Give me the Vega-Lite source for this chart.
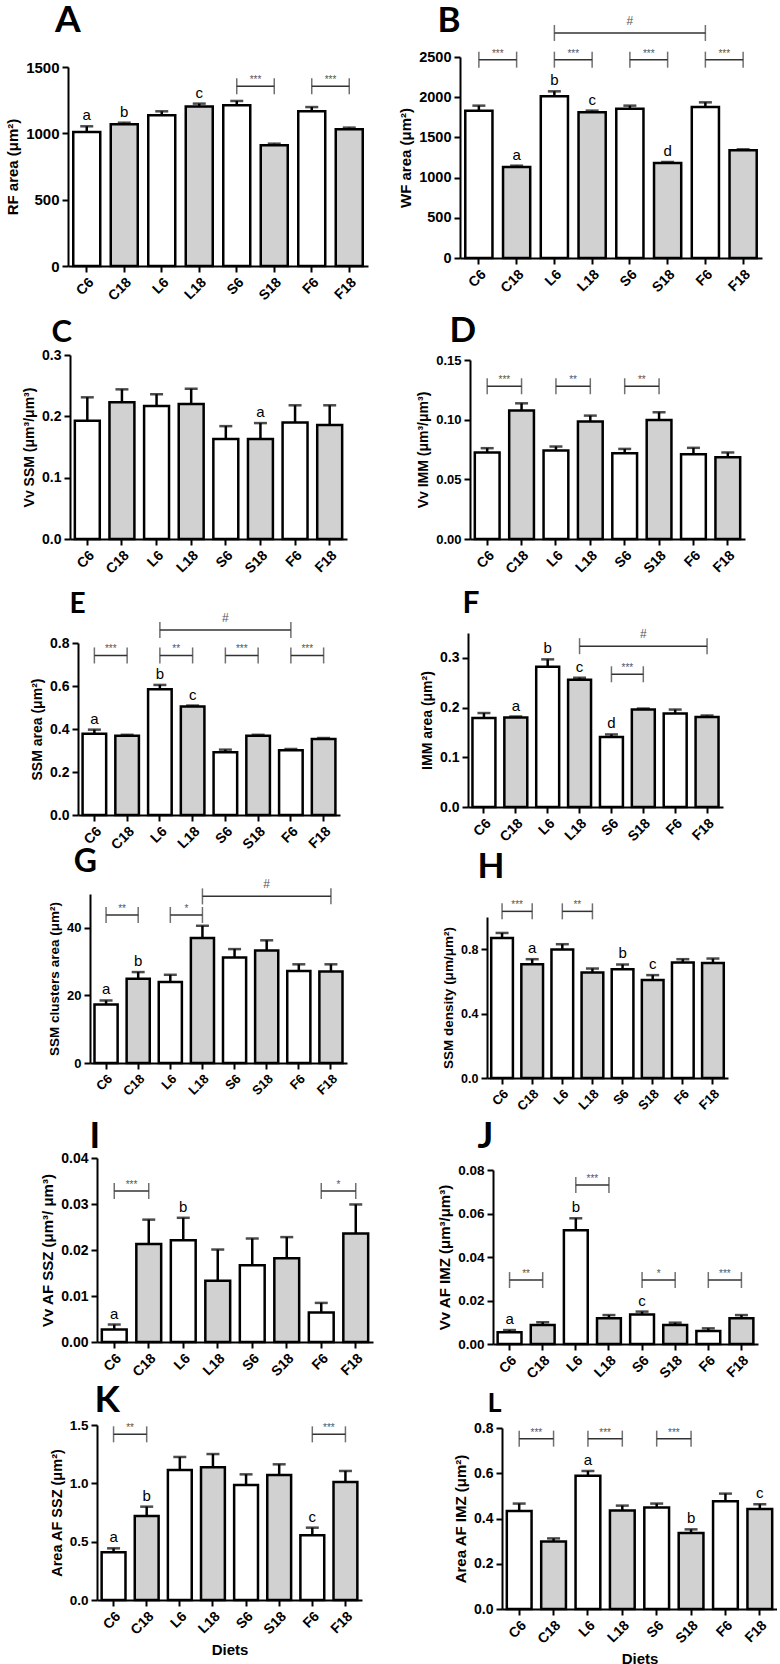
{
"$schema":"https://vega.github.io/schema/vega-lite/v6.json",
"padding":0,
"background":"white",
"datasets":{
"bars":[
{"p":"A","diet":"C6","wk":"6","mean":1010,"upper":1053,"letter":"a"},
{"p":"A","diet":"C18","wk":"18","mean":1068,"upper":1080,"letter":"b"},
{"p":"A","diet":"L6","wk":"6","mean":1136,"upper":1166},
{"p":"A","diet":"L18","wk":"18","mean":1203,"upper":1224,"letter":"c"},
{"p":"A","diet":"S6","wk":"6","mean":1211,"upper":1244},
{"p":"A","diet":"S18","wk":"18","mean":910,"upper":922},
{"p":"A","diet":"F6","wk":"6","mean":1166,"upper":1198},
{"p":"A","diet":"F18","wk":"18","mean":1030,"upper":1043},
{"p":"B","diet":"C6","wk":"6","mean":1833,"upper":1895},
{"p":"B","diet":"C18","wk":"18","mean":1132,"upper":1148,"letter":"a"},
{"p":"B","diet":"L6","wk":"6","mean":2011,"upper":2073,"letter":"b"},
{"p":"B","diet":"L18","wk":"18","mean":1812,"upper":1833,"letter":"c"},
{"p":"B","diet":"S6","wk":"6","mean":1857,"upper":1895},
{"p":"B","diet":"S18","wk":"18","mean":1182,"upper":1194,"letter":"d"},
{"p":"B","diet":"F6","wk":"6","mean":1878,"upper":1936},
{"p":"B","diet":"F18","wk":"18","mean":1339,"upper":1352},
{"p":"C","diet":"C6","wk":"6","mean":0.193,"upper":0.231},
{"p":"C","diet":"C18","wk":"18","mean":0.223,"upper":0.244},
{"p":"C","diet":"L6","wk":"6","mean":0.217,"upper":0.236},
{"p":"C","diet":"L18","wk":"18","mean":0.220,"upper":0.245},
{"p":"C","diet":"S6","wk":"6","mean":0.163,"upper":0.184},
{"p":"C","diet":"S18","wk":"18","mean":0.163,"upper":0.189,"letter":"a"},
{"p":"C","diet":"F6","wk":"6","mean":0.190,"upper":0.218},
{"p":"C","diet":"F18","wk":"18","mean":0.186,"upper":0.218},
{"p":"D","diet":"C6","wk":"6","mean":0.0725,"upper":0.0761},
{"p":"D","diet":"C18","wk":"18","mean":0.1076,"upper":0.1137},
{"p":"D","diet":"L6","wk":"6","mean":0.0742,"upper":0.0775},
{"p":"D","diet":"L18","wk":"18","mean":0.0984,"upper":0.1034},
{"p":"D","diet":"S6","wk":"6","mean":0.0719,"upper":0.0755},
{"p":"D","diet":"S18","wk":"18","mean":0.0998,"upper":0.1062},
{"p":"D","diet":"F6","wk":"6","mean":0.0711,"upper":0.0764},
{"p":"D","diet":"F18","wk":"18","mean":0.0686,"upper":0.0725},
{"p":"E","diet":"C6","wk":"6","mean":0.378,"upper":0.397,"letter":"a"},
{"p":"E","diet":"C18","wk":"18","mean":0.369,"upper":0.373},
{"p":"E","diet":"L6","wk":"6","mean":0.585,"upper":0.605,"letter":"b"},
{"p":"E","diet":"L18","wk":"18","mean":0.505,"upper":0.509,"letter":"c"},
{"p":"E","diet":"S6","wk":"6","mean":0.292,"upper":0.304},
{"p":"E","diet":"S18","wk":"18","mean":0.369,"upper":0.373},
{"p":"E","diet":"F6","wk":"6","mean":0.301,"upper":0.307},
{"p":"E","diet":"F18","wk":"18","mean":0.353,"upper":0.358},
{"p":"F","diet":"C6","wk":"6","mean":0.179,"upper":0.189},
{"p":"F","diet":"C18","wk":"18","mean":0.180,"upper":0.182,"letter":"a"},
{"p":"F","diet":"L6","wk":"6","mean":0.282,"upper":0.297,"letter":"b"},
{"p":"F","diet":"L18","wk":"18","mean":0.256,"upper":0.260,"letter":"c"},
{"p":"F","diet":"S6","wk":"6","mean":0.141,"upper":0.146,"letter":"d"},
{"p":"F","diet":"S18","wk":"18","mean":0.196,"upper":0.198},
{"p":"F","diet":"F6","wk":"6","mean":0.188,"upper":0.196},
{"p":"F","diet":"F18","wk":"18","mean":0.181,"upper":0.184},
{"p":"G","diet":"C6","wk":"6","mean":17.3,"upper":18.5,"letter":"a"},
{"p":"G","diet":"C18","wk":"18","mean":24.9,"upper":26.9,"letter":"b"},
{"p":"G","diet":"L6","wk":"6","mean":24.0,"upper":26.1},
{"p":"G","diet":"L18","wk":"18","mean":37.0,"upper":40.6},
{"p":"G","diet":"S6","wk":"6","mean":31.2,"upper":33.7},
{"p":"G","diet":"S18","wk":"18","mean":33.3,"upper":36.3},
{"p":"G","diet":"F6","wk":"6","mean":27.2,"upper":29.2},
{"p":"G","diet":"F18","wk":"18","mean":27.1,"upper":29.2},
{"p":"H","diet":"C6","wk":"6","mean":0.870,"upper":0.901},
{"p":"H","diet":"C18","wk":"18","mean":0.707,"upper":0.738,"letter":"a"},
{"p":"H","diet":"L6","wk":"6","mean":0.798,"upper":0.831},
{"p":"H","diet":"L18","wk":"18","mean":0.656,"upper":0.680},
{"p":"H","diet":"S6","wk":"6","mean":0.676,"upper":0.705,"letter":"b"},
{"p":"H","diet":"S18","wk":"18","mean":0.608,"upper":0.639,"letter":"c"},
{"p":"H","diet":"F6","wk":"6","mean":0.718,"upper":0.738},
{"p":"H","diet":"F18","wk":"18","mean":0.715,"upper":0.742},
{"p":"I","diet":"C6","wk":"6","mean":0.0027,"upper":0.0038,"letter":"a"},
{"p":"I","diet":"C18","wk":"18","mean":0.0213,"upper":0.0266},
{"p":"I","diet":"L6","wk":"6","mean":0.0221,"upper":0.0270,"letter":"b"},
{"p":"I","diet":"L18","wk":"18","mean":0.0133,"upper":0.0201},
{"p":"I","diet":"S6","wk":"6","mean":0.0167,"upper":0.0225},
{"p":"I","diet":"S18","wk":"18","mean":0.0182,"upper":0.0228},
{"p":"I","diet":"F6","wk":"6","mean":0.0064,"upper":0.0085},
{"p":"I","diet":"F18","wk":"18","mean":0.0236,"upper":0.0299},
{"p":"J","diet":"C6","wk":"6","mean":0.0054,"upper":0.0064,"letter":"a"},
{"p":"J","diet":"C18","wk":"18","mean":0.0087,"upper":0.0100},
{"p":"J","diet":"L6","wk":"6","mean":0.0523,"upper":0.0578,"letter":"b"},
{"p":"J","diet":"L18","wk":"18","mean":0.0118,"upper":0.0133},
{"p":"J","diet":"S6","wk":"6","mean":0.0136,"upper":0.0149,"letter":"c"},
{"p":"J","diet":"S18","wk":"18","mean":0.0087,"upper":0.0098},
{"p":"J","diet":"F6","wk":"6","mean":0.0060,"upper":0.0072},
{"p":"J","diet":"F18","wk":"18","mean":0.0118,"upper":0.0133},
{"p":"K","diet":"C6","wk":"6","mean":0.409,"upper":0.443,"letter":"a"},
{"p":"K","diet":"C18","wk":"18","mean":0.720,"upper":0.800,"letter":"b"},
{"p":"K","diet":"L6","wk":"6","mean":1.114,"upper":1.226},
{"p":"K","diet":"L18","wk":"18","mean":1.137,"upper":1.251},
{"p":"K","diet":"S6","wk":"6","mean":0.986,"upper":1.077},
{"p":"K","diet":"S18","wk":"18","mean":1.071,"upper":1.163},
{"p":"K","diet":"F6","wk":"6","mean":0.554,"upper":0.620,"letter":"c"},
{"p":"K","diet":"F18","wk":"18","mean":1.011,"upper":1.106},
{"p":"L","diet":"C6","wk":"6","mean":0.433,"upper":0.466},
{"p":"L","diet":"C18","wk":"18","mean":0.298,"upper":0.312},
{"p":"L","diet":"L6","wk":"6","mean":0.589,"upper":0.610,"letter":"a"},
{"p":"L","diet":"L18","wk":"18","mean":0.435,"upper":0.457},
{"p":"L","diet":"S6","wk":"6","mean":0.449,"upper":0.466},
{"p":"L","diet":"S18","wk":"18","mean":0.336,"upper":0.352,"letter":"b"},
{"p":"L","diet":"F6","wk":"6","mean":0.476,"upper":0.510},
{"p":"L","diet":"F18","wk":"18","mean":0.442,"upper":0.463,"letter":"c"}
],
"brk":[
{"p":"A","from":"S6","to":"S18","y":1354,"label":"***"},
{"p":"A","from":"F6","to":"F18","y":1354,"label":"***"},
{"p":"B","from":"C6","to":"C18","y":2467,"label":"***"},
{"p":"B","from":"L6","to":"L18","y":2467,"label":"***"},
{"p":"B","from":"S6","to":"S18","y":2467,"label":"***"},
{"p":"B","from":"F6","to":"F18","y":2467,"label":"***"},
{"p":"B","from":"L6","to":"F6","mid":"S6","y":2799,"label":"#"},
{"p":"D","from":"C6","to":"C18","y":0.128,"label":"***"},
{"p":"D","from":"L6","to":"L18","y":0.128,"label":"**"},
{"p":"D","from":"S6","to":"S18","y":0.128,"label":"**"},
{"p":"E","from":"C6","to":"C18","y":0.742,"label":"***"},
{"p":"E","from":"L6","to":"L18","y":0.742,"label":"**"},
{"p":"E","from":"S6","to":"S18","y":0.742,"label":"***"},
{"p":"E","from":"F6","to":"F18","y":0.742,"label":"***"},
{"p":"E","from":"L6","to":"F6","mid":"S6","y":0.86,"label":"#"},
{"p":"F","from":"S6","to":"S18","y":0.267,"label":"***"},
{"p":"F","from":"L18","to":"F18","mid":"S18","y":0.3235,"label":"#"},
{"p":"G","from":"C6","to":"C18","y":43.8,"label":"**"},
{"p":"G","from":"L6","to":"L18","y":43.8,"label":"*"},
{"p":"G","from":"L18","to":"F18","mid":"S18","y":49.3,"label":"#"},
{"p":"H","from":"C6","to":"C18","y":1.035,"label":"***"},
{"p":"H","from":"L6","to":"L18","y":1.035,"label":"**"},
{"p":"I","from":"C6","to":"C18","y":0.0328,"label":"***"},
{"p":"I","from":"F6","to":"F18","y":0.0328,"label":"*"},
{"p":"J","from":"C6","to":"C18","y":0.0294,"label":"**"},
{"p":"J","from":"L6","to":"L18","y":0.0731,"label":"***"},
{"p":"J","from":"S6","to":"S18","y":0.0294,"label":"*"},
{"p":"J","from":"F6","to":"F18","y":0.0294,"label":"***"},
{"p":"K","from":"C6","to":"C18","y":1.42,"label":"**"},
{"p":"K","from":"F6","to":"F18","y":1.42,"label":"***"},
{"p":"L","from":"C6","to":"C18","y":0.753,"label":"***"},
{"p":"L","from":"L6","to":"L18","y":0.753,"label":"***"},
{"p":"L","from":"S6","to":"S18","y":0.753,"label":"***"}
],
"tags":[
{"p":"A","tag":"A"},{"p":"B","tag":"B"},{"p":"C","tag":"C"},{"p":"D","tag":"D"},
{"p":"E","tag":"E"},{"p":"F","tag":"F"},{"p":"G","tag":"G"},{"p":"H","tag":"H"},
{"p":"I","tag":"I"},{"p":"J","tag":"J"},{"p":"K","tag":"K"},{"p":"L","tag":"L"}
]
},
"config":{
"view":{"stroke":null},
"axis":{"domainColor":"black","domainWidth":2,"tickColor":"black","tickWidth":2,"tickSize":6,"labelFont":"Liberation Sans","labelFontWeight":"bold","labelColor":"black","titleFont":"Liberation Sans","titleFontWeight":"bold","titleColor":"black","grid":false,"labelPadding":3,"titlePadding":5},
"text":{"font":"Liberation Sans"}
},
"bounds":"flush",
"spacing":0,
"vconcat":[
{"width":1,"height":57,"data":{"values":[]},"mark":"text","encoding":{}},
{"spacing":0,"bounds":"flush","hconcat":[
{"width":460,"height":1,"data":{"values":[]},"mark":"text","encoding":{}},
{"width":302,"height":201,"layer":[
{"data":{"name":"bars"},"transform":[{"filter":"datum.p=='B'"}],
"encoding":{"x":{"field":"diet","type":"nominal","scale":{"domain":["C6","C18","L6","L18","S6","S18","F6","F18"],"paddingInner":0.28,"paddingOuter":0.14},"axis":{"title":null,"labelAngle":-45,"labelFontSize":14}}},
"layer":[
{"mark":{"type":"bar","stroke":"black","strokeWidth":2.5},"encoding":{"y":{"field":"mean","type":"quantitative","scale":{"domain":[0,2500],"nice":false},"axis":{"values":[0,500,1000,1500,2000,2500],"format":"d","title":"WF area (μm²)","labelFontSize":14.5,"titleFontSize":15}},"fill":{"field":"wk","type":"nominal","scale":{"domain":["6","18"],"range":["#ffffff","#d0d1d0"]},"legend":null}}},
{"mark":{"type":"rule","strokeWidth":2.5,"color":"black"},"encoding":{"y":{"field":"mean","type":"quantitative"},"y2":{"field":"upper"}}},
{"mark":{"type":"tick","orient":"horizontal","thickness":2.5,"size":13,"color":"black"},"encoding":{"y":{"field":"upper","type":"quantitative"}}},
{"transform":[{"filter":"datum.letter"}],"mark":{"type":"text","baseline":"alphabetic","dy":-6,"fontSize":15,"color":"black"},"encoding":{"y":{"field":"upper","type":"quantitative"},"text":{"field":"letter"}}}
]},
{"data":{"name":"brk"},"transform":[{"filter":"datum.p=='B'"}],"layer":[
{"mark":{"type":"rule","color":"#333","strokeWidth":1.5},"encoding":{"x":{"field":"from","type":"nominal"},"x2":{"field":"to"},"y":{"field":"y","type":"quantitative"}}},
{"mark":{"type":"tick","orient":"vertical","thickness":1.5,"size":16,"color":"#333"},"encoding":{"x":{"field":"from","type":"nominal"},"y":{"field":"y","type":"quantitative"}}},
{"mark":{"type":"tick","orient":"vertical","thickness":1.5,"size":16,"color":"#333"},"encoding":{"x":{"field":"to","type":"nominal"},"y":{"field":"y","type":"quantitative"}}},
{"transform":[{"filter":"datum.label != '#'"}],"mark":{"type":"text","fontSize":10,"color":"#555","dy":-6},"encoding":{"x":{"field":"from","type":"nominal","bandPosition":1.194},"y":{"field":"y","type":"quantitative"},"text":{"field":"label"}}},
{"transform":[{"filter":"datum.label == '#'"}],"mark":{"type":"text","fontSize":12,"color":"#555","dy":-12},"encoding":{"x":{"field":"mid","type":"nominal"},"y":{"field":"y","type":"quantitative"},"text":{"field":"label"}}}
]},
{"data":{"name":"tags"},"transform":[{"filter":"datum.p=='B'"}],"mark":{"type":"text","font":"Lato","fontWeight":"bold","fontSize":35,"align":"left","baseline":"alphabetic","color":"black"},"encoding":{"x":{"datum":"C6","bandPosition":-1.02},"y":{"datum":2811},"text":{"field":"tag"}}}
]}]},
{"width":1,"height":10,"data":{"values":[]},"mark":"text","encoding":{}},
{"spacing":0,"bounds":"flush","hconcat":[
{"width":68,"height":1,"data":{"values":[]},"mark":"text","encoding":{}},
{"width":300,"height":199,"layer":[
{"data":{"name":"bars"},"transform":[{"filter":"datum.p=='A'"}],
"encoding":{"x":{"field":"diet","type":"nominal","scale":{"domain":["C6","C18","L6","L18","S6","S18","F6","F18"],"paddingInner":0.28,"paddingOuter":0.14},"axis":{"title":null,"labelAngle":-45,"labelFontSize":14}}},
"layer":[
{"mark":{"type":"bar","stroke":"black","strokeWidth":2.5},"encoding":{"y":{"field":"mean","type":"quantitative","scale":{"domain":[0,1500],"nice":false},"axis":{"values":[0,500,1000,1500],"format":"d","title":"RF area (μm²)","labelFontSize":15,"titleFontSize":15}},"fill":{"field":"wk","type":"nominal","scale":{"domain":["6","18"],"range":["#ffffff","#d0d1d0"]},"legend":null}}},
{"mark":{"type":"rule","strokeWidth":2.5,"color":"black"},"encoding":{"y":{"field":"mean","type":"quantitative"},"y2":{"field":"upper"}}},
{"mark":{"type":"tick","orient":"horizontal","thickness":2.5,"size":13,"color":"black"},"encoding":{"y":{"field":"upper","type":"quantitative"}}},
{"transform":[{"filter":"datum.letter"}],"mark":{"type":"text","baseline":"alphabetic","dy":-6,"fontSize":15,"color":"black"},"encoding":{"y":{"field":"upper","type":"quantitative"},"text":{"field":"letter"}}}
]},
{"data":{"name":"brk"},"transform":[{"filter":"datum.p=='A'"}],"layer":[
{"mark":{"type":"rule","color":"#333","strokeWidth":1.5},"encoding":{"x":{"field":"from","type":"nominal"},"x2":{"field":"to"},"y":{"field":"y","type":"quantitative"}}},
{"mark":{"type":"tick","orient":"vertical","thickness":1.5,"size":16,"color":"#333"},"encoding":{"x":{"field":"from","type":"nominal"},"y":{"field":"y","type":"quantitative"}}},
{"mark":{"type":"tick","orient":"vertical","thickness":1.5,"size":16,"color":"#333"},"encoding":{"x":{"field":"to","type":"nominal"},"y":{"field":"y","type":"quantitative"}}},
{"transform":[{"filter":"datum.label != '#'"}],"mark":{"type":"text","fontSize":10,"color":"#555","dy":-6},"encoding":{"x":{"field":"from","type":"nominal","bandPosition":1.194},"y":{"field":"y","type":"quantitative"},"text":{"field":"label"}}}
]},
{"data":{"name":"tags"},"transform":[{"filter":"datum.p=='A'"}],"mark":{"type":"text","font":"Lato","fontWeight":"bold","fontSize":37,"align":"left","baseline":"alphabetic","color":"black"},"encoding":{"x":{"datum":"C6","bandPosition":-0.68},"y":{"datum":1764},"text":{"field":"tag"}}}
]}]},
{"width":1,"height":288,"data":{"values":[]},"mark":"text","encoding":{}},
{"spacing":0,"bounds":"flush","hconcat":[
{"width":70,"height":1,"data":{"values":[]},"mark":"text","encoding":{}},
{"width":277,"height":184,"layer":[
{"data":{"name":"bars"},"transform":[{"filter":"datum.p=='C'"}],
"encoding":{"x":{"field":"diet","type":"nominal","scale":{"domain":["C6","C18","L6","L18","S6","S18","F6","F18"],"paddingInner":0.28,"paddingOuter":0.14},"axis":{"title":null,"labelAngle":-45,"labelFontSize":14}}},
"layer":[
{"mark":{"type":"bar","stroke":"black","strokeWidth":2.5},"encoding":{"y":{"field":"mean","type":"quantitative","scale":{"domain":[0,0.3],"nice":false},"axis":{"values":[0,0.1,0.2,0.3],"format":".1f","title":"Vv SSM (μm³/μm³)","labelFontSize":14,"titleFontSize":14}},"fill":{"field":"wk","type":"nominal","scale":{"domain":["6","18"],"range":["#ffffff","#d0d1d0"]},"legend":null}}},
{"mark":{"type":"rule","strokeWidth":2.5,"color":"black"},"encoding":{"y":{"field":"mean","type":"quantitative"},"y2":{"field":"upper"}}},
{"mark":{"type":"tick","orient":"horizontal","thickness":2.5,"size":13,"color":"black"},"encoding":{"y":{"field":"upper","type":"quantitative"}}},
{"transform":[{"filter":"datum.letter"}],"mark":{"type":"text","baseline":"alphabetic","dy":-6,"fontSize":15,"color":"black"},"encoding":{"y":{"field":"upper","type":"quantitative"},"text":{"field":"letter"}}}
]},
{"data":{"name":"tags"},"transform":[{"filter":"datum.p=='C'"}],"mark":{"type":"text","font":"Lato","fontWeight":"bold","fontSize":31,"align":"left","baseline":"alphabetic","color":"black"},"encoding":{"x":{"datum":"C6","bandPosition":-0.94},"y":{"datum":0.3212},"text":{"field":"tag"}}}
]}]},
{"width":1,"height":5,"data":{"values":[]},"mark":"text","encoding":{}},
{"spacing":0,"bounds":"flush","hconcat":[
{"width":470,"height":1,"data":{"values":[]},"mark":"text","encoding":{}},
{"width":275,"height":179,"layer":[
{"data":{"name":"bars"},"transform":[{"filter":"datum.p=='D'"}],
"encoding":{"x":{"field":"diet","type":"nominal","scale":{"domain":["C6","C18","L6","L18","S6","S18","F6","F18"],"paddingInner":0.28,"paddingOuter":0.14},"axis":{"title":null,"labelAngle":-45,"labelFontSize":14}}},
"layer":[
{"mark":{"type":"bar","stroke":"black","strokeWidth":2.5},"encoding":{"y":{"field":"mean","type":"quantitative","scale":{"domain":[0,0.15],"nice":false},"axis":{"values":[0,0.05,0.1,0.15],"format":".2f","title":"Vv IMM (μm³/μm³)","labelFontSize":13,"titleFontSize":14}},"fill":{"field":"wk","type":"nominal","scale":{"domain":["6","18"],"range":["#ffffff","#d0d1d0"]},"legend":null}}},
{"mark":{"type":"rule","strokeWidth":2.5,"color":"black"},"encoding":{"y":{"field":"mean","type":"quantitative"},"y2":{"field":"upper"}}},
{"mark":{"type":"tick","orient":"horizontal","thickness":2.5,"size":13,"color":"black"},"encoding":{"y":{"field":"upper","type":"quantitative"}}}
]},
{"data":{"name":"brk"},"transform":[{"filter":"datum.p=='D'"}],"layer":[
{"mark":{"type":"rule","color":"#333","strokeWidth":1.5},"encoding":{"x":{"field":"from","type":"nominal"},"x2":{"field":"to"},"y":{"field":"y","type":"quantitative"}}},
{"mark":{"type":"tick","orient":"vertical","thickness":1.5,"size":16,"color":"#333"},"encoding":{"x":{"field":"from","type":"nominal"},"y":{"field":"y","type":"quantitative"}}},
{"mark":{"type":"tick","orient":"vertical","thickness":1.5,"size":16,"color":"#333"},"encoding":{"x":{"field":"to","type":"nominal"},"y":{"field":"y","type":"quantitative"}}},
{"transform":[{"filter":"datum.label != '#'"}],"mark":{"type":"text","fontSize":10,"color":"#555","dy":-6},"encoding":{"x":{"field":"from","type":"nominal","bandPosition":1.194},"y":{"field":"y","type":"quantitative"},"text":{"field":"label"}}}
]},
{"data":{"name":"tags"},"transform":[{"filter":"datum.p=='D'"}],"mark":{"type":"text","font":"Lato","fontWeight":"bold","fontSize":35,"align":"left","baseline":"alphabetic","color":"black"},"encoding":{"x":{"datum":"C6","bandPosition":-1.02},"y":{"datum":0.1651},"text":{"field":"tag"}}}
]}]},
{"width":1,"height":273,"data":{"values":[]},"mark":"text","encoding":{}},
{"spacing":0,"bounds":"flush","hconcat":[
{"width":468,"height":1,"data":{"values":[]},"mark":"text","encoding":{}},
{"width":255,"height":174,"layer":[
{"data":{"name":"bars"},"transform":[{"filter":"datum.p=='F'"}],
"encoding":{"x":{"field":"diet","type":"nominal","scale":{"domain":["C6","C18","L6","L18","S6","S18","F6","F18"],"paddingInner":0.28,"paddingOuter":0.14},"axis":{"title":null,"labelAngle":-45,"labelFontSize":14}}},
"layer":[
{"mark":{"type":"bar","stroke":"black","strokeWidth":2.5},"encoding":{"y":{"field":"mean","type":"quantitative","scale":{"domain":[0,0.35],"nice":false},"axis":{"values":[0,0.1,0.2,0.3],"format":".1f","title":"IMM area (μm²)","labelFontSize":14,"titleFontSize":14}},"fill":{"field":"wk","type":"nominal","scale":{"domain":["6","18"],"range":["#ffffff","#d0d1d0"]},"legend":null}}},
{"mark":{"type":"rule","strokeWidth":2.5,"color":"black"},"encoding":{"y":{"field":"mean","type":"quantitative"},"y2":{"field":"upper"}}},
{"mark":{"type":"tick","orient":"horizontal","thickness":2.5,"size":13,"color":"black"},"encoding":{"y":{"field":"upper","type":"quantitative"}}},
{"transform":[{"filter":"datum.letter"}],"mark":{"type":"text","baseline":"alphabetic","dy":-6,"fontSize":15,"color":"black"},"encoding":{"y":{"field":"upper","type":"quantitative"},"text":{"field":"letter"}}}
]},
{"data":{"name":"brk"},"transform":[{"filter":"datum.p=='F'"}],"layer":[
{"mark":{"type":"rule","color":"#333","strokeWidth":1.5},"encoding":{"x":{"field":"from","type":"nominal"},"x2":{"field":"to"},"y":{"field":"y","type":"quantitative"}}},
{"mark":{"type":"tick","orient":"vertical","thickness":1.5,"size":16,"color":"#333"},"encoding":{"x":{"field":"from","type":"nominal"},"y":{"field":"y","type":"quantitative"}}},
{"mark":{"type":"tick","orient":"vertical","thickness":1.5,"size":16,"color":"#333"},"encoding":{"x":{"field":"to","type":"nominal"},"y":{"field":"y","type":"quantitative"}}},
{"transform":[{"filter":"datum.label != '#'"}],"mark":{"type":"text","fontSize":10,"color":"#555","dy":-6},"encoding":{"x":{"field":"from","type":"nominal","bandPosition":1.194},"y":{"field":"y","type":"quantitative"},"text":{"field":"label"}}},
{"transform":[{"filter":"datum.label == '#'"}],"mark":{"type":"text","fontSize":12,"color":"#555","dy":-12},"encoding":{"x":{"field":"mid","type":"nominal"},"y":{"field":"y","type":"quantitative"},"text":{"field":"label"}}}
]},
{"data":{"name":"tags"},"transform":[{"filter":"datum.p=='F'"}],"mark":{"type":"text","font":"Lato","fontWeight":"bold","fontSize":30,"align":"left","baseline":"alphabetic","color":"black"},"encoding":{"x":{"datum":"C6","bandPosition":-0.43},"y":{"datum":0.3902},"text":{"field":"tag"}}}
]}]},
{"width":1,"height":10,"data":{"values":[]},"mark":"text","encoding":{}},
{"spacing":0,"bounds":"flush","hconcat":[
{"width":78,"height":1,"data":{"values":[]},"mark":"text","encoding":{}},
{"width":262,"height":172,"layer":[
{"data":{"name":"bars"},"transform":[{"filter":"datum.p=='E'"}],
"encoding":{"x":{"field":"diet","type":"nominal","scale":{"domain":["C6","C18","L6","L18","S6","S18","F6","F18"],"paddingInner":0.28,"paddingOuter":0.14},"axis":{"title":null,"labelAngle":-45,"labelFontSize":14}}},
"layer":[
{"mark":{"type":"bar","stroke":"black","strokeWidth":2.5},"encoding":{"y":{"field":"mean","type":"quantitative","scale":{"domain":[0,0.8],"nice":false},"axis":{"values":[0,0.2,0.4,0.6,0.8],"format":".1f","title":"SSM area (μm²)","labelFontSize":14,"titleFontSize":14}},"fill":{"field":"wk","type":"nominal","scale":{"domain":["6","18"],"range":["#ffffff","#d0d1d0"]},"legend":null}}},
{"mark":{"type":"rule","strokeWidth":2.5,"color":"black"},"encoding":{"y":{"field":"mean","type":"quantitative"},"y2":{"field":"upper"}}},
{"mark":{"type":"tick","orient":"horizontal","thickness":2.5,"size":13,"color":"black"},"encoding":{"y":{"field":"upper","type":"quantitative"}}},
{"transform":[{"filter":"datum.letter"}],"mark":{"type":"text","baseline":"alphabetic","dy":-6,"fontSize":15,"color":"black"},"encoding":{"y":{"field":"upper","type":"quantitative"},"text":{"field":"letter"}}}
]},
{"data":{"name":"brk"},"transform":[{"filter":"datum.p=='E'"}],"layer":[
{"mark":{"type":"rule","color":"#333","strokeWidth":1.5},"encoding":{"x":{"field":"from","type":"nominal"},"x2":{"field":"to"},"y":{"field":"y","type":"quantitative"}}},
{"mark":{"type":"tick","orient":"vertical","thickness":1.5,"size":16,"color":"#333"},"encoding":{"x":{"field":"from","type":"nominal"},"y":{"field":"y","type":"quantitative"}}},
{"mark":{"type":"tick","orient":"vertical","thickness":1.5,"size":16,"color":"#333"},"encoding":{"x":{"field":"to","type":"nominal"},"y":{"field":"y","type":"quantitative"}}},
{"transform":[{"filter":"datum.label != '#'"}],"mark":{"type":"text","fontSize":10,"color":"#555","dy":-6},"encoding":{"x":{"field":"from","type":"nominal","bandPosition":1.194},"y":{"field":"y","type":"quantitative"},"text":{"field":"label"}}},
{"transform":[{"filter":"datum.label == '#'"}],"mark":{"type":"text","fontSize":12,"color":"#555","dy":-12},"encoding":{"x":{"field":"mid","type":"nominal"},"y":{"field":"y","type":"quantitative"},"text":{"field":"label"}}}
]},
{"data":{"name":"tags"},"transform":[{"filter":"datum.p=='E'"}],"mark":{"type":"text","font":"Lato","fontWeight":"bold","fontSize":28,"align":"left","baseline":"alphabetic","color":"black"},"encoding":{"x":{"datum":"C6","bandPosition":-0.55},"y":{"datum":0.9395},"text":{"field":"tag"}}}
]}]},
{"width":1,"height":251,"data":{"values":[]},"mark":"text","encoding":{}},
{"spacing":0,"bounds":"flush","hconcat":[
{"width":90,"height":1,"data":{"values":[]},"mark":"text","encoding":{}},
{"width":257,"height":169,"layer":[
{"data":{"name":"bars"},"transform":[{"filter":"datum.p=='G'"}],
"encoding":{"x":{"field":"diet","type":"nominal","scale":{"domain":["C6","C18","L6","L18","S6","S18","F6","F18"],"paddingInner":0.28,"paddingOuter":0.14},"axis":{"title":null,"labelAngle":-45,"labelFontSize":13}}},
"layer":[
{"mark":{"type":"bar","stroke":"black","strokeWidth":2.5},"encoding":{"y":{"field":"mean","type":"quantitative","scale":{"domain":[0,50],"nice":false},"axis":{"values":[0,10,20,30,40,50],"format":"d","title":"SSM clusters area (μm²)","labelFontSize":13,"titleFontSize":13.5}},"fill":{"field":"wk","type":"nominal","scale":{"domain":["6","18"],"range":["#ffffff","#d0d1d0"]},"legend":null}}},
{"mark":{"type":"rule","strokeWidth":2.5,"color":"black"},"encoding":{"y":{"field":"mean","type":"quantitative"},"y2":{"field":"upper"}}},
{"mark":{"type":"tick","orient":"horizontal","thickness":2.5,"size":13,"color":"black"},"encoding":{"y":{"field":"upper","type":"quantitative"}}},
{"transform":[{"filter":"datum.letter"}],"mark":{"type":"text","baseline":"alphabetic","dy":-6,"fontSize":15,"color":"black"},"encoding":{"y":{"field":"upper","type":"quantitative"},"text":{"field":"letter"}}}
]},
{"data":{"name":"brk"},"transform":[{"filter":"datum.p=='G'"}],"layer":[
{"mark":{"type":"rule","color":"#333","strokeWidth":1.5},"encoding":{"x":{"field":"from","type":"nominal"},"x2":{"field":"to"},"y":{"field":"y","type":"quantitative"}}},
{"mark":{"type":"tick","orient":"vertical","thickness":1.5,"size":16,"color":"#333"},"encoding":{"x":{"field":"from","type":"nominal"},"y":{"field":"y","type":"quantitative"}}},
{"mark":{"type":"tick","orient":"vertical","thickness":1.5,"size":16,"color":"#333"},"encoding":{"x":{"field":"to","type":"nominal"},"y":{"field":"y","type":"quantitative"}}},
{"transform":[{"filter":"datum.label != '#'"}],"mark":{"type":"text","fontSize":10,"color":"#555","dy":-6},"encoding":{"x":{"field":"from","type":"nominal","bandPosition":1.194},"y":{"field":"y","type":"quantitative"},"text":{"field":"label"}}},
{"transform":[{"filter":"datum.label == '#'"}],"mark":{"type":"text","fontSize":12,"color":"#555","dy":-12},"encoding":{"x":{"field":"mid","type":"nominal"},"y":{"field":"y","type":"quantitative"},"text":{"field":"label"}}}
]},
{"data":{"name":"tags"},"transform":[{"filter":"datum.p=='G'"}],"mark":{"type":"text","font":"Lato","fontWeight":"bold","fontSize":32,"align":"left","baseline":"alphabetic","color":"black"},"encoding":{"x":{"datum":"C6","bandPosition":-0.9},"y":{"datum":56.5},"text":{"field":"tag"}}}
]}]},
{"width":1,"height":23,"data":{"values":[]},"mark":"text","encoding":{}},
{"spacing":0,"bounds":"flush","hconcat":[
{"width":487,"height":1,"data":{"values":[]},"mark":"text","encoding":{}},
{"width":241,"height":161,"layer":[
{"data":{"name":"bars"},"transform":[{"filter":"datum.p=='H'"}],
"encoding":{"x":{"field":"diet","type":"nominal","scale":{"domain":["C6","C18","L6","L18","S6","S18","F6","F18"],"paddingInner":0.28,"paddingOuter":0.14},"axis":{"title":null,"labelAngle":-45,"labelFontSize":13}}},
"layer":[
{"mark":{"type":"bar","stroke":"black","strokeWidth":2.5},"encoding":{"y":{"field":"mean","type":"quantitative","scale":{"domain":[0,1],"nice":false},"axis":{"values":[0,0.2,0.4,0.6,0.8,1],"format":".1f","title":"SSM density (μm/μm²)","labelFontSize":12.5,"titleFontSize":13.5}},"fill":{"field":"wk","type":"nominal","scale":{"domain":["6","18"],"range":["#ffffff","#d0d1d0"]},"legend":null}}},
{"mark":{"type":"rule","strokeWidth":2.5,"color":"black"},"encoding":{"y":{"field":"mean","type":"quantitative"},"y2":{"field":"upper"}}},
{"mark":{"type":"tick","orient":"horizontal","thickness":2.5,"size":13,"color":"black"},"encoding":{"y":{"field":"upper","type":"quantitative"}}},
{"transform":[{"filter":"datum.letter"}],"mark":{"type":"text","baseline":"alphabetic","dy":-6,"fontSize":15,"color":"black"},"encoding":{"y":{"field":"upper","type":"quantitative"},"text":{"field":"letter"}}}
]},
{"data":{"name":"brk"},"transform":[{"filter":"datum.p=='H'"}],"layer":[
{"mark":{"type":"rule","color":"#333","strokeWidth":1.5},"encoding":{"x":{"field":"from","type":"nominal"},"x2":{"field":"to"},"y":{"field":"y","type":"quantitative"}}},
{"mark":{"type":"tick","orient":"vertical","thickness":1.5,"size":16,"color":"#333"},"encoding":{"x":{"field":"from","type":"nominal"},"y":{"field":"y","type":"quantitative"}}},
{"mark":{"type":"tick","orient":"vertical","thickness":1.5,"size":16,"color":"#333"},"encoding":{"x":{"field":"to","type":"nominal"},"y":{"field":"y","type":"quantitative"}}},
{"transform":[{"filter":"datum.label != '#'"}],"mark":{"type":"text","fontSize":10,"color":"#555","dy":-6},"encoding":{"x":{"field":"from","type":"nominal","bandPosition":1.194},"y":{"field":"y","type":"quantitative"},"text":{"field":"label"}}}
]},
{"data":{"name":"tags"},"transform":[{"filter":"datum.p=='H'"}],"mark":{"type":"text","font":"Lato","fontWeight":"bold","fontSize":35,"align":"left","baseline":"alphabetic","color":"black"},"encoding":{"x":{"datum":"C6","bandPosition":-0.63},"y":{"datum":1.242},"text":{"field":"tag"}}}
]}]},
{"width":1,"height":241,"data":{"values":[]},"mark":"text","encoding":{}},
{"spacing":0,"bounds":"flush","hconcat":[
{"width":97,"height":1,"data":{"values":[]},"mark":"text","encoding":{}},
{"width":276,"height":184,"layer":[
{"data":{"name":"bars"},"transform":[{"filter":"datum.p=='I'"}],
"encoding":{"x":{"field":"diet","type":"nominal","scale":{"domain":["C6","C18","L6","L18","S6","S18","F6","F18"],"paddingInner":0.28,"paddingOuter":0.14},"axis":{"title":null,"labelAngle":-45,"labelFontSize":14}}},
"layer":[
{"mark":{"type":"bar","stroke":"black","strokeWidth":2.5},"encoding":{"y":{"field":"mean","type":"quantitative","scale":{"domain":[0,0.04],"nice":false},"axis":{"values":[0,0.01,0.02,0.03,0.04],"format":".2f","title":"Vv AF SSZ (μm³/ μm³)","labelFontSize":14,"titleFontSize":15}},"fill":{"field":"wk","type":"nominal","scale":{"domain":["6","18"],"range":["#ffffff","#d0d1d0"]},"legend":null}}},
{"mark":{"type":"rule","strokeWidth":2.5,"color":"black"},"encoding":{"y":{"field":"mean","type":"quantitative"},"y2":{"field":"upper"}}},
{"mark":{"type":"tick","orient":"horizontal","thickness":2.5,"size":13,"color":"black"},"encoding":{"y":{"field":"upper","type":"quantitative"}}},
{"transform":[{"filter":"datum.letter"}],"mark":{"type":"text","baseline":"alphabetic","dy":-6,"fontSize":15,"color":"black"},"encoding":{"y":{"field":"upper","type":"quantitative"},"text":{"field":"letter"}}}
]},
{"data":{"name":"brk"},"transform":[{"filter":"datum.p=='I'"}],"layer":[
{"mark":{"type":"rule","color":"#333","strokeWidth":1.5},"encoding":{"x":{"field":"from","type":"nominal"},"x2":{"field":"to"},"y":{"field":"y","type":"quantitative"}}},
{"mark":{"type":"tick","orient":"vertical","thickness":1.5,"size":16,"color":"#333"},"encoding":{"x":{"field":"from","type":"nominal"},"y":{"field":"y","type":"quantitative"}}},
{"mark":{"type":"tick","orient":"vertical","thickness":1.5,"size":16,"color":"#333"},"encoding":{"x":{"field":"to","type":"nominal"},"y":{"field":"y","type":"quantitative"}}},
{"transform":[{"filter":"datum.label != '#'"}],"mark":{"type":"text","fontSize":10,"color":"#555","dy":-6},"encoding":{"x":{"field":"from","type":"nominal","bandPosition":1.194},"y":{"field":"y","type":"quantitative"},"text":{"field":"label"}}}
]},
{"data":{"name":"tags"},"transform":[{"filter":"datum.p=='I'"}],"mark":{"type":"text","font":"Lato","fontWeight":"bold","fontSize":36,"align":"left","baseline":"alphabetic","color":"black"},"encoding":{"x":{"datum":"C6","bandPosition":-0.5},"y":{"datum":0.04217},"text":{"field":"tag"}}}
]}]},
{"width":1,"height":12,"data":{"values":[]},"mark":"text","encoding":{}},
{"spacing":0,"bounds":"flush","hconcat":[
{"width":493,"height":1,"data":{"values":[]},"mark":"text","encoding":{}},
{"width":265,"height":174,"layer":[
{"data":{"name":"bars"},"transform":[{"filter":"datum.p=='J'"}],
"encoding":{"x":{"field":"diet","type":"nominal","scale":{"domain":["C6","C18","L6","L18","S6","S18","F6","F18"],"paddingInner":0.28,"paddingOuter":0.14},"axis":{"title":null,"labelAngle":-45,"labelFontSize":14}}},
"layer":[
{"mark":{"type":"bar","stroke":"black","strokeWidth":2.5},"encoding":{"y":{"field":"mean","type":"quantitative","scale":{"domain":[0,0.08],"nice":false},"axis":{"values":[0,0.02,0.04,0.06,0.08],"format":".2f","title":"Vv AF IMZ (μm³/μm³)","labelFontSize":13.5,"titleFontSize":15}},"fill":{"field":"wk","type":"nominal","scale":{"domain":["6","18"],"range":["#ffffff","#d0d1d0"]},"legend":null}}},
{"mark":{"type":"rule","strokeWidth":2.5,"color":"black"},"encoding":{"y":{"field":"mean","type":"quantitative"},"y2":{"field":"upper"}}},
{"mark":{"type":"tick","orient":"horizontal","thickness":2.5,"size":13,"color":"black"},"encoding":{"y":{"field":"upper","type":"quantitative"}}},
{"transform":[{"filter":"datum.letter"}],"mark":{"type":"text","baseline":"alphabetic","dy":-6,"fontSize":15,"color":"black"},"encoding":{"y":{"field":"upper","type":"quantitative"},"text":{"field":"letter"}}}
]},
{"data":{"name":"brk"},"transform":[{"filter":"datum.p=='J'"}],"layer":[
{"mark":{"type":"rule","color":"#333","strokeWidth":1.5},"encoding":{"x":{"field":"from","type":"nominal"},"x2":{"field":"to"},"y":{"field":"y","type":"quantitative"}}},
{"mark":{"type":"tick","orient":"vertical","thickness":1.5,"size":16,"color":"#333"},"encoding":{"x":{"field":"from","type":"nominal"},"y":{"field":"y","type":"quantitative"}}},
{"mark":{"type":"tick","orient":"vertical","thickness":1.5,"size":16,"color":"#333"},"encoding":{"x":{"field":"to","type":"nominal"},"y":{"field":"y","type":"quantitative"}}},
{"transform":[{"filter":"datum.label != '#'"}],"mark":{"type":"text","fontSize":10,"color":"#555","dy":-6},"encoding":{"x":{"field":"from","type":"nominal","bandPosition":1.194},"y":{"field":"y","type":"quantitative"},"text":{"field":"label"}}}
]},
{"data":{"name":"tags"},"transform":[{"filter":"datum.p=='J'"}],"mark":{"type":"text","font":"Lato","fontWeight":"bold","fontSize":37,"align":"left","baseline":"alphabetic","color":"black"},"encoding":{"x":{"datum":"C6","bandPosition":-0.84},"y":{"datum":0.0901},"text":{"field":"tag"}}}
]}]},
{"width":1,"height":255,"data":{"values":[]},"mark":"text","encoding":{}},
{"spacing":0,"bounds":"flush","hconcat":[
{"width":97,"height":1,"data":{"values":[]},"mark":"text","encoding":{}},
{"width":265,"height":175,"layer":[
{"data":{"name":"bars"},"transform":[{"filter":"datum.p=='K'"}],
"encoding":{"x":{"field":"diet","type":"nominal","scale":{"domain":["C6","C18","L6","L18","S6","S18","F6","F18"],"paddingInner":0.28,"paddingOuter":0.14},"axis":{"title":"Diets","titleFontSize":15,"labelAngle":-45,"labelFontSize":14}}},
"layer":[
{"mark":{"type":"bar","stroke":"black","strokeWidth":2.5},"encoding":{"y":{"field":"mean","type":"quantitative","scale":{"domain":[0,1.5],"nice":false},"axis":{"values":[0,0.5,1,1.5],"format":".1f","title":"Area AF SSZ (μm²)","labelFontSize":13.5,"titleFontSize":14.5}},"fill":{"field":"wk","type":"nominal","scale":{"domain":["6","18"],"range":["#ffffff","#d0d1d0"]},"legend":null}}},
{"mark":{"type":"rule","strokeWidth":2.5,"color":"black"},"encoding":{"y":{"field":"mean","type":"quantitative"},"y2":{"field":"upper"}}},
{"mark":{"type":"tick","orient":"horizontal","thickness":2.5,"size":13,"color":"black"},"encoding":{"y":{"field":"upper","type":"quantitative"}}},
{"transform":[{"filter":"datum.letter"}],"mark":{"type":"text","baseline":"alphabetic","dy":-6,"fontSize":15,"color":"black"},"encoding":{"y":{"field":"upper","type":"quantitative"},"text":{"field":"letter"}}}
]},
{"data":{"name":"brk"},"transform":[{"filter":"datum.p=='K'"}],"layer":[
{"mark":{"type":"rule","color":"#333","strokeWidth":1.5},"encoding":{"x":{"field":"from","type":"nominal"},"x2":{"field":"to"},"y":{"field":"y","type":"quantitative"}}},
{"mark":{"type":"tick","orient":"vertical","thickness":1.5,"size":16,"color":"#333"},"encoding":{"x":{"field":"from","type":"nominal"},"y":{"field":"y","type":"quantitative"}}},
{"mark":{"type":"tick","orient":"vertical","thickness":1.5,"size":16,"color":"#333"},"encoding":{"x":{"field":"to","type":"nominal"},"y":{"field":"y","type":"quantitative"}}},
{"transform":[{"filter":"datum.label != '#'"}],"mark":{"type":"text","fontSize":10,"color":"#555","dy":-6},"encoding":{"x":{"field":"from","type":"nominal","bandPosition":1.194},"y":{"field":"y","type":"quantitative"},"text":{"field":"label"}}}
]},
{"data":{"name":"tags"},"transform":[{"filter":"datum.p=='K'"}],"mark":{"type":"text","font":"Lato","fontWeight":"bold","fontSize":37,"align":"left","baseline":"alphabetic","color":"black"},"encoding":{"x":{"datum":"C6","bandPosition":-0.3},"y":{"datum":1.611},"text":{"field":"tag"}}}
]}]},
{"width":1,"height":3,"data":{"values":[]},"mark":"text","encoding":{}},
{"spacing":0,"bounds":"flush","hconcat":[
{"width":502,"height":1,"data":{"values":[]},"mark":"text","encoding":{}},
{"width":275,"height":181,"layer":[
{"data":{"name":"bars"},"transform":[{"filter":"datum.p=='L'"}],
"encoding":{"x":{"field":"diet","type":"nominal","scale":{"domain":["C6","C18","L6","L18","S6","S18","F6","F18"],"paddingInner":0.28,"paddingOuter":0.14},"axis":{"title":"Diets","titleFontSize":15,"labelAngle":-45,"labelFontSize":14}}},
"layer":[
{"mark":{"type":"bar","stroke":"black","strokeWidth":2.5},"encoding":{"y":{"field":"mean","type":"quantitative","scale":{"domain":[0,0.8],"nice":false},"axis":{"values":[0,0.2,0.4,0.6,0.8],"format":".1f","title":"Area AF IMZ (μm²)","labelFontSize":14,"titleFontSize":15}},"fill":{"field":"wk","type":"nominal","scale":{"domain":["6","18"],"range":["#ffffff","#d0d1d0"]},"legend":null}}},
{"mark":{"type":"rule","strokeWidth":2.5,"color":"black"},"encoding":{"y":{"field":"mean","type":"quantitative"},"y2":{"field":"upper"}}},
{"mark":{"type":"tick","orient":"horizontal","thickness":2.5,"size":13,"color":"black"},"encoding":{"y":{"field":"upper","type":"quantitative"}}},
{"transform":[{"filter":"datum.letter"}],"mark":{"type":"text","baseline":"alphabetic","dy":-6,"fontSize":15,"color":"black"},"encoding":{"y":{"field":"upper","type":"quantitative"},"text":{"field":"letter"}}}
]},
{"data":{"name":"brk"},"transform":[{"filter":"datum.p=='L'"}],"layer":[
{"mark":{"type":"rule","color":"#333","strokeWidth":1.5},"encoding":{"x":{"field":"from","type":"nominal"},"x2":{"field":"to"},"y":{"field":"y","type":"quantitative"}}},
{"mark":{"type":"tick","orient":"vertical","thickness":1.5,"size":16,"color":"#333"},"encoding":{"x":{"field":"from","type":"nominal"},"y":{"field":"y","type":"quantitative"}}},
{"mark":{"type":"tick","orient":"vertical","thickness":1.5,"size":16,"color":"#333"},"encoding":{"x":{"field":"to","type":"nominal"},"y":{"field":"y","type":"quantitative"}}},
{"transform":[{"filter":"datum.label != '#'"}],"mark":{"type":"text","fontSize":10,"color":"#555","dy":-6},"encoding":{"x":{"field":"from","type":"nominal","bandPosition":1.194},"y":{"field":"y","type":"quantitative"},"text":{"field":"label"}}}
]},
{"data":{"name":"tags"},"transform":[{"filter":"datum.p=='L'"}],"mark":{"type":"text","font":"Lato","fontWeight":"bold","fontSize":27,"align":"left","baseline":"alphabetic","color":"black"},"encoding":{"x":{"datum":"C6","bandPosition":-0.78},"y":{"datum":0.8707},"text":{"field":"tag"}}}
]}]}
]
}
